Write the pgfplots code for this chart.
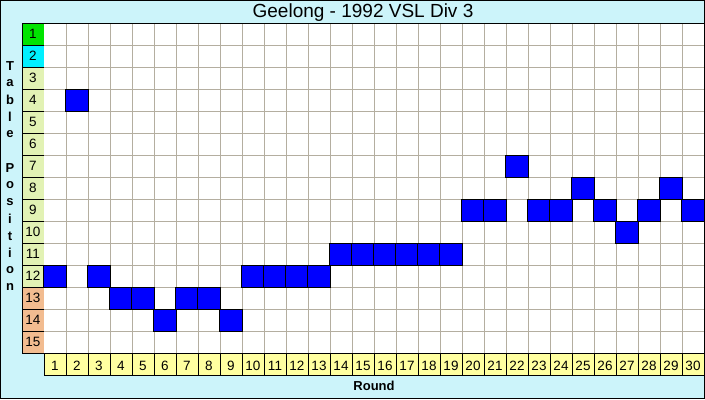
\documentclass[border=0pt]{standalone}
\usepackage{pgfplots}
\pgfplotsset{compat=1.18}
\usepackage{fontspec}
\setmainfont{Liberation Sans}
\definecolor{bgc}{RGB}{204,244,250}
\definecolor{gridc}{RGB}{180,174,160}
\definecolor{labone}{RGB}{0,228,0}
\definecolor{labtwo}{RGB}{0,240,255}
\definecolor{labmid}{RGB}{226,242,180}
\definecolor{labbot}{RGB}{242,188,144}
\definecolor{labx}{RGB}{255,255,160}
\begin{document}
\begin{tikzpicture}[x=1pt,y=1pt]
\fill[bgc] (0,0) rectangle (705,399);
\begin{axis}[at={(22pt,24pt)}, anchor=south west, width=682pt, height=352pt,
  scale only axis, xmin=-0.5, xmax=30.5, ymin=0.5, ymax=16.5, y dir=reverse,
  clip=false, axis line style={draw=none}, major tick length=0pt,
  xtick={1.5,2.5,...,29.5}, ytick={1.5,2.5,...,14.5},
  xticklabels={}, yticklabels={},
  grid=major, major grid style={draw=gridc, line width=1pt},
  axis background/.style={fill=white}]
% corner back to background colour
\fill[bgc] (axis cs:-0.5,15.5) rectangle (axis cs:0.5,16.5);
% label column
\fill[labone] (axis cs:-0.5,0.5) rectangle (axis cs:0.5,1.5);
\fill[labtwo] (axis cs:-0.5,1.5) rectangle (axis cs:0.5,2.5);
\fill[labmid] (axis cs:-0.5,2.5) rectangle (axis cs:0.5,12.5);
\fill[labbot] (axis cs:-0.5,12.5) rectangle (axis cs:0.5,15.5);
% label row
\fill[labx] (axis cs:0.5,15.5) rectangle (axis cs:30.5,16.5);
% data
\addplot[only marks, mark=square*, mark size=11.4pt, mark options={draw=none, fill=blue}]
coordinates {
(1,12) (2,4) (3,12) (4,13) (5,13) (6,14) (7,13) (8,13) (9,14) (10,12)
(11,12) (12,12) (13,12) (14,11) (15,11) (16,11) (17,11) (18,11) (19,11) (20,9)
(21,9) (22,7) (23,9) (24,9) (25,8) (26,9) (27,10) (28,9) (29,8) (30,9)
};
% black borders
\pgfplotsinvokeforeach{0.5,1.5,...,15.5}{\draw[black,line width=1pt] (axis cs:-0.5,#1) -- (axis cs:0.5,#1);}
\pgfplotsinvokeforeach{0.5,1.5,...,30.5}{\draw[black,line width=1pt] (axis cs:#1,15.5) -- (axis cs:#1,16.5);}
\draw[black,line width=1pt] (axis cs:-0.5,15.5) -- (axis cs:-0.5,0.5) -- (axis cs:30.5,0.5) -- (axis cs:30.5,16.5) -- (axis cs:0.5,16.5);
\draw[black,line width=1pt] (axis cs:0.5,15.5) -- (axis cs:30.5,15.5);
% labels
\pgfplotsinvokeforeach{1,...,15}{\node[font=\fontsize{13.5}{15}\selectfont] at (axis cs:0,#1) {#1};}
\pgfplotsinvokeforeach{1,...,30}{\node[font=\fontsize{13.5}{15}\selectfont] at (axis cs:#1,16.07) {#1};}
\end{axis}
\draw[black,line width=1pt] (0.5,0.5) rectangle (704.5,398.5);
\node[font=\fontsize{19}{22}\selectfont] at (363,387) {Geelong - 1992 VSL Div 3};
\node[font=\bfseries\fontsize{13}{15}\selectfont] at (374,13) {Round};
\foreach \c/\yy in {T/66,a/83,b/100,l/117,e/134,P/168,o/185,s/202,i/219,t/236,i/253,o/270,n/287}
  \node[font=\bfseries\fontsize{13}{15}\selectfont] at (10,399-\yy) {\c};
\end{tikzpicture}
\end{document}
